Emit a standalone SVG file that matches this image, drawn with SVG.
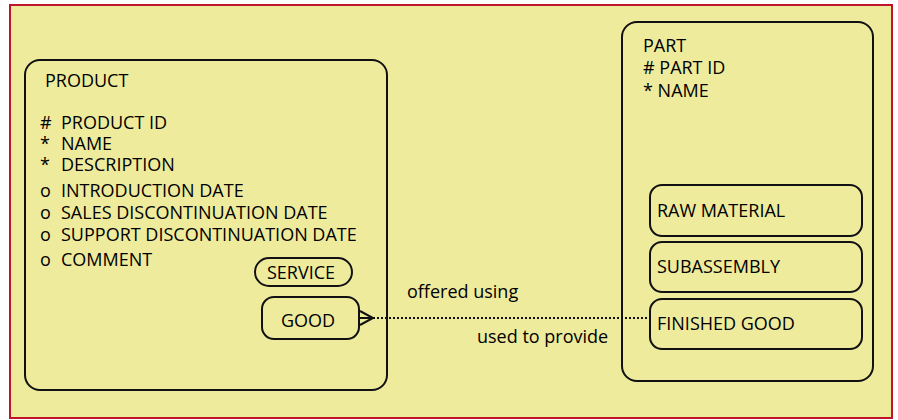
<svg xmlns="http://www.w3.org/2000/svg" width="898" height="420" viewBox="0 0 898 420">
<style>
text{font-family:"Open Sans","Liberation Sans",sans-serif;font-size:18px;fill:#000}
.box{fill:none;stroke:#111;stroke-width:2}
.conn{fill:none;stroke:#111;stroke-width:2}
</style>
<rect x="0" y="0" width="898" height="420" fill="#ffffff"/>
<rect x="10" y="5" width="882" height="413" fill="#EEEB9D" stroke="#C0142C" stroke-width="2"/>
<g id="product">
<rect class="box" x="25" y="60" width="362" height="330" rx="15"/>
<text x="45" y="87">PRODUCT</text>
<text x="40" y="129">#</text><text x="61" y="129">PRODUCT ID</text>
<text x="40" y="150">*</text><text x="61" y="150">NAME</text>
<text x="40" y="171">*</text><text x="61" y="171">DESCRIPTION</text>
<text x="40" y="197">o</text><text x="61" y="197">INTRODUCTION DATE</text>
<text x="40" y="219">o</text><text x="61" y="219">SALES DISCONTINUATION DATE</text>
<text x="40" y="241">o</text><text x="61" y="241">SUPPORT DISCONTINUATION DATE</text>
<text x="40" y="266">o</text><text x="61" y="266">COMMENT</text>
</g>
<g id="service">
<rect class="box" x="255" y="258" width="97" height="28" rx="14"/>
<text x="267" y="279">SERVICE</text>
</g>
<g id="good">
<rect class="box" x="262" y="297" width="97" height="42" rx="12"/>
<text x="281" y="327">GOOD</text>
</g>
<g id="part">
<rect class="box" x="622" y="22" width="251" height="359" rx="15"/>
<text x="643" y="52">PART</text>
<text x="643" y="74"># PART ID</text>
<text x="643" y="97">* NAME</text>
</g>
<g id="raw-material">
<rect class="box" x="650" y="185" width="212" height="51" rx="12"/>
<text x="657" y="217">RAW MATERIAL</text>
</g>
<g id="subassembly">
<rect class="box" x="650" y="242" width="212" height="50" rx="12"/>
<text x="657" y="273">SUBASSEMBLY</text>
</g>
<g id="finished-good">
<rect class="box" x="650" y="299" width="212" height="50" rx="12"/>
<text x="657" y="330">FINISHED GOOD</text>
</g>
<g id="connectors">
<path class="conn" d="M360 311 L373 318 L360 325 M360 318 L373 318"/>
<line x1="373" y1="318" x2="650" y2="318" stroke="#111" stroke-width="2" stroke-dasharray="2 2"/>
<text x="407" y="298">offered using</text>
<text x="477" y="343">used to provide</text>
</g>
</svg>
